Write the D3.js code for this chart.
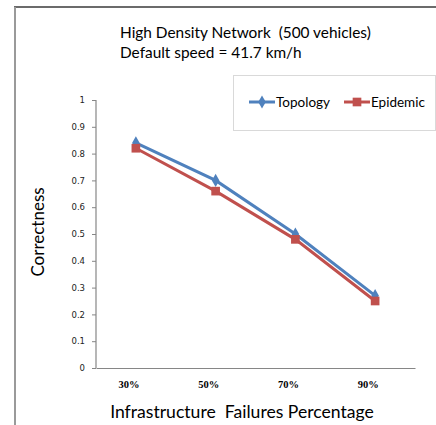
<!DOCTYPE html>
<html>
<head>
<meta charset="utf-8">
<script src="https://cdn.jsdelivr.net/npm/d3@7"></script>
<style>
  body { margin: 0; background: #fff; }
  svg { display: block; }
  text { white-space: pre; }
</style>
</head>
<body>
<div id="chart"></div>
<script>
// data
const categories = ['30%', '50%', '70%', '90%'];
const topology = [0.84, 0.70, 0.50, 0.27];
const epidemic = [0.82, 0.66, 0.48, 0.25];
const seriesNames = ['Topology', 'Epidemic'];
const yTickValues = [0, 0.1, 0.2, 0.3, 0.4, 0.5, 0.6, 0.7, 0.8, 0.9, 1];
const titleLines = ['High Density Network  (500 vehicles)', 'Default speed = 41.7 km/h'];
const yTitle = 'Correctness';
const xTitle = 'Infrastructure  Failures Percentage';

const width = 436;
const height = 425;
const plot = {left: 96, right: 415, top: 100, bottom: 368};
const blue = '#4f81bd';
const red = '#c0504d';
const labelFont = 'Lato, sans-serif';

let svg = d3.select('#chart').append('svg')
    .attr('width', width)
    .attr('height', height);

// outer frame (only the top and left edges are inside the picture)
svg.append('line')
    .attr('x1', 14).attr('x2', width).attr('y1', 7).attr('y2', 7)
    .attr('stroke', '#3a3a3a').attr('stroke-width', 1.5);
svg.append('line')
    .attr('x1', 15).attr('x2', 15).attr('y1', 7).attr('y2', height)
    .attr('stroke', '#9a9a9a').attr('stroke-width', 2);

let x = d3.scaleBand().domain(categories).range([plot.left, plot.right]);
let y = d3.scaleLinear().domain([0, 1]).range([plot.bottom, plot.top]);
let cx = function(c) { return x(c) + x.bandwidth() / 2; };

// title
svg.append('g').selectAll('text').data(titleLines).enter().append('text')
    .attr('x', 120)
    .attr('y', function(d, i) { return 38 + i * 20; })
    .attr('font-family', labelFont)
    .attr('font-size', '15.4px')
    .attr('fill', '#000')
    .text(function(d) { return d; });

// y axis
let yAxis = d3.axisLeft(y)
    .tickValues(yTickValues)
    .tickSize(4)
    .tickFormat(function(d) { return d === 0 || d === 1 ? String(d) : d.toFixed(1); });
let yg = svg.append('g')
    .attr('transform', 'translate(' + plot.left + ',0)')
    .call(yAxis);
yg.select('.domain').attr('stroke', '#868686').attr('stroke-width', 1.2).attr('d', 'M0,' + plot.top + 'V' + plot.bottom);
yg.selectAll('.tick line').attr('stroke', '#868686');
yg.selectAll('.tick text')
    .attr('x', -11)
    .attr('font-family', '"DejaVu Sans", Verdana, sans-serif')
    .attr('font-size', '8.5px')
    .attr('fill', '#222');

// x axis: plain line, no ticks
let xAxis = d3.axisBottom(x).tickSize(0).tickFormat('');
let xg = svg.append('g')
    .attr('transform', 'translate(0,' + plot.bottom + ')')
    .call(xAxis);
xg.select('.domain').attr('stroke', '#868686').attr('stroke-width', 1.2);

svg.append('g').selectAll('text').data(categories).enter().append('text')
    .attr('x', function(d) { return cx(d) - 7; })
    .attr('y', plot.bottom + 20)
    .attr('text-anchor', 'middle')
    .attr('font-family', '"Liberation Serif", "Times New Roman", serif')
    .attr('font-weight', 'bold')
    .attr('font-size', '10.5px')
    .attr('fill', '#000')
    .text(function(d) { return d; });

// axis titles
svg.append('text')
    .attr('transform', 'translate(44,' + 232 + ') rotate(-90)')
    .attr('text-anchor', 'middle')
    .attr('font-family', labelFont)
    .attr('font-size', '17px')
    .attr('fill', '#000')
    .text(yTitle);

svg.append('text')
    .attr('x', 242)
    .attr('y', 418)
    .attr('text-anchor', 'middle')
    .attr('font-family', labelFont)
    .attr('font-size', '17.6px')
    .attr('fill', '#000')
    .text(xTitle);

// series
let series = [
    {name: seriesNames[0], values: topology, color: blue, symbol: d3.symbolDiamond, size: 50},
    {name: seriesNames[1], values: epidemic, color: red, symbol: d3.symbolSquare, size: 75}
];

let line = d3.line()
    .x(function(d, i) { return cx(categories[i]); })
    .y(function(d) { return y(d); });

series.forEach(function(s) {
    let g = svg.append('g');
    g.append('path')
        .attr('d', line(s.values))
        .attr('fill', 'none')
        .attr('stroke', s.color)
        .attr('stroke-width', 3);
    g.selectAll('path.marker').data(s.values).enter().append('path')
        .attr('class', 'marker')
        .attr('d', d3.symbol().type(s.symbol).size(s.size))
        .attr('transform', function(d, i) { return 'translate(' + cx(categories[i]) + ',' + y(d) + ')'; })
        .attr('fill', s.color);
});

// legend
let legend = svg.append('g');
legend.append('rect')
    .attr('x', 233.5).attr('y', 75.5)
    .attr('width', 202).attr('height', 55)
    .attr('fill', '#fff')
    .attr('stroke', '#d9d9d9');

let legendX = [249, 344];
series.forEach(function(s, i) {
    let lg = legend.append('g').attr('transform', 'translate(' + legendX[i] + ',102)');
    lg.append('line')
        .attr('x1', 0).attr('x2', 26)
        .attr('stroke', s.color).attr('stroke-width', 3);
    lg.append('path')
        .attr('d', d3.symbol().type(s.symbol).size(s.size))
        .attr('transform', 'translate(13,0)')
        .attr('fill', s.color);
    lg.append('text')
        .attr('x', 27)
        .attr('y', 5)
        .attr('font-family', labelFont)
        .attr('font-size', '13.5px')
        .attr('fill', '#000')
        .text(s.name);
});
</script>
</body>
</html>
